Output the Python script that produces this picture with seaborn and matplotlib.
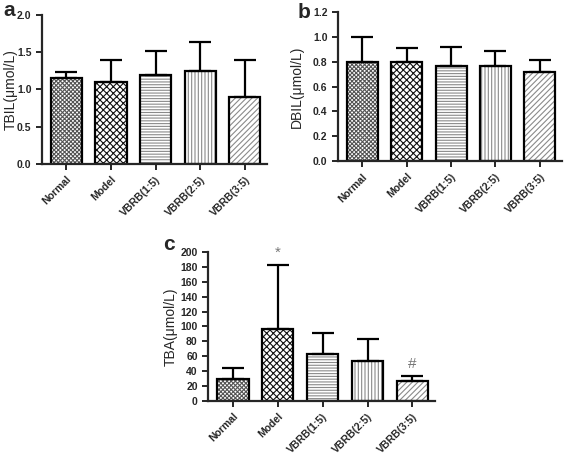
import numpy as np
import pandas as pd
import seaborn as sns
import matplotlib
matplotlib.use("Agg")
import matplotlib.pyplot as plt

groups = ["Normal", "Model", "VBRB(1:5)", "VBRB(2:5)", "VBRB(3:5)"]

tbil_mean = [1.15, 1.10, 1.20, 1.25, 0.90]
tbil_sd = [0.08, 0.30, 0.31, 0.39, 0.50]

dbil_mean = [0.80, 0.80, 0.77, 0.77, 0.72]
dbil_sd = [0.20, 0.11, 0.15, 0.12, 0.095]

tba_mean = [30, 96, 63, 54, 27]
tba_sd = [14, 87, 28, 29, 6]

tba_marks = ["", "*", "", "", "#"]

hatches = ["xxxxxxxx", "xxxxx", "------", "|||||", "//////"]
hatch_cols = ["#555555", "#111111", "#8a8a8a", "#8a8a8a", "#8a8a8a"]

sns.set_style("ticks")
plt.rcParams["font.family"] = ["Liberation Sans", "DejaVu Sans"]
plt.rcParams["hatch.linewidth"] = 0.8


def panel(ax, mean, sd, ylabel, ymax, step, fmt, label_x):
    df = pd.DataFrame({"group": groups, "value": mean})
    sns.barplot(data=df, x="group", y="value", ax=ax, width=0.7,
                color="white", linewidth=0, errorbar=None)
    for p, h, c in zip(ax.patches, hatches, hatch_cols):
        p.set_hatch(h)
        p.set_edgecolor(c)
        p.set_facecolor("white")
    sns.barplot(data=df, x="group", y="value", ax=ax, width=0.7,
                fill=False, edgecolor="black", linewidth=1.6, errorbar=None)
    x = np.arange(len(groups))
    ax.errorbar(x, mean, yerr=[np.zeros(len(sd)), sd], fmt="none",
                ecolor="black", elinewidth=1.6, capsize=8, capthick=1.6,
                zorder=1)
    ax.set_xlim(-0.55, 4.5)
    ax.set_ylim(0, ymax)
    ax.set_yticks(np.arange(0, ymax + step / 2, step))
    ax.yaxis.set_major_formatter(plt.FormatStrFormatter(fmt))
    ax.set_xlabel("")
    ax.set_ylabel(ylabel, fontsize=10)
    ax.yaxis.set_label_coords(label_x, 0.5)
    ax.tick_params(axis="both", width=1.4, length=4, labelsize=7.5)
    for lab in ax.get_yticklabels():
        lab.set_fontweight("bold")
    ax.set_xticks(x)
    ax.set_xticklabels(groups, rotation=45, ha="right",
                       rotation_mode="anchor", fontweight="bold", fontsize=7.5)
    sns.despine(ax=ax)
    for s in ["left", "bottom"]:
        ax.spines[s].set_linewidth(1.6)


fig = plt.figure(figsize=(5.67, 4.55), dpi=100)
ax_a = fig.add_axes([0.074, 0.640, 0.397, 0.327])
ax_b = fig.add_axes([0.596, 0.646, 0.395, 0.327])
ax_c = fig.add_axes([0.367, 0.119, 0.400, 0.327])

panel(ax_a, tbil_mean, tbil_sd, "TBIL(μmol/L)", 2.0, 0.5, "%.1f", -0.108)
panel(ax_b, dbil_mean, dbil_sd, "DBIL(μmol/L)", 1.2, 0.2, "%.1f", -0.152)
panel(ax_c, tba_mean, tba_sd, "TBA(μmol/L)", 200, 20, "%d", -0.135)

for i, m in enumerate(tba_marks):
    if m:
        ax_c.text(i, tba_mean[i] + tba_sd[i] + 7, m, ha="center",
                  va="bottom", fontsize=11, color="#777777")

for letter, (px, py) in zip("abc", [(9, 10), (304, 12), (169, 244)]):
    fig.text(px / 567, 1 - py / 455, letter, fontsize=15,
             fontweight="bold", ha="center", va="center")

fig.savefig("out.png", dpi=100)
